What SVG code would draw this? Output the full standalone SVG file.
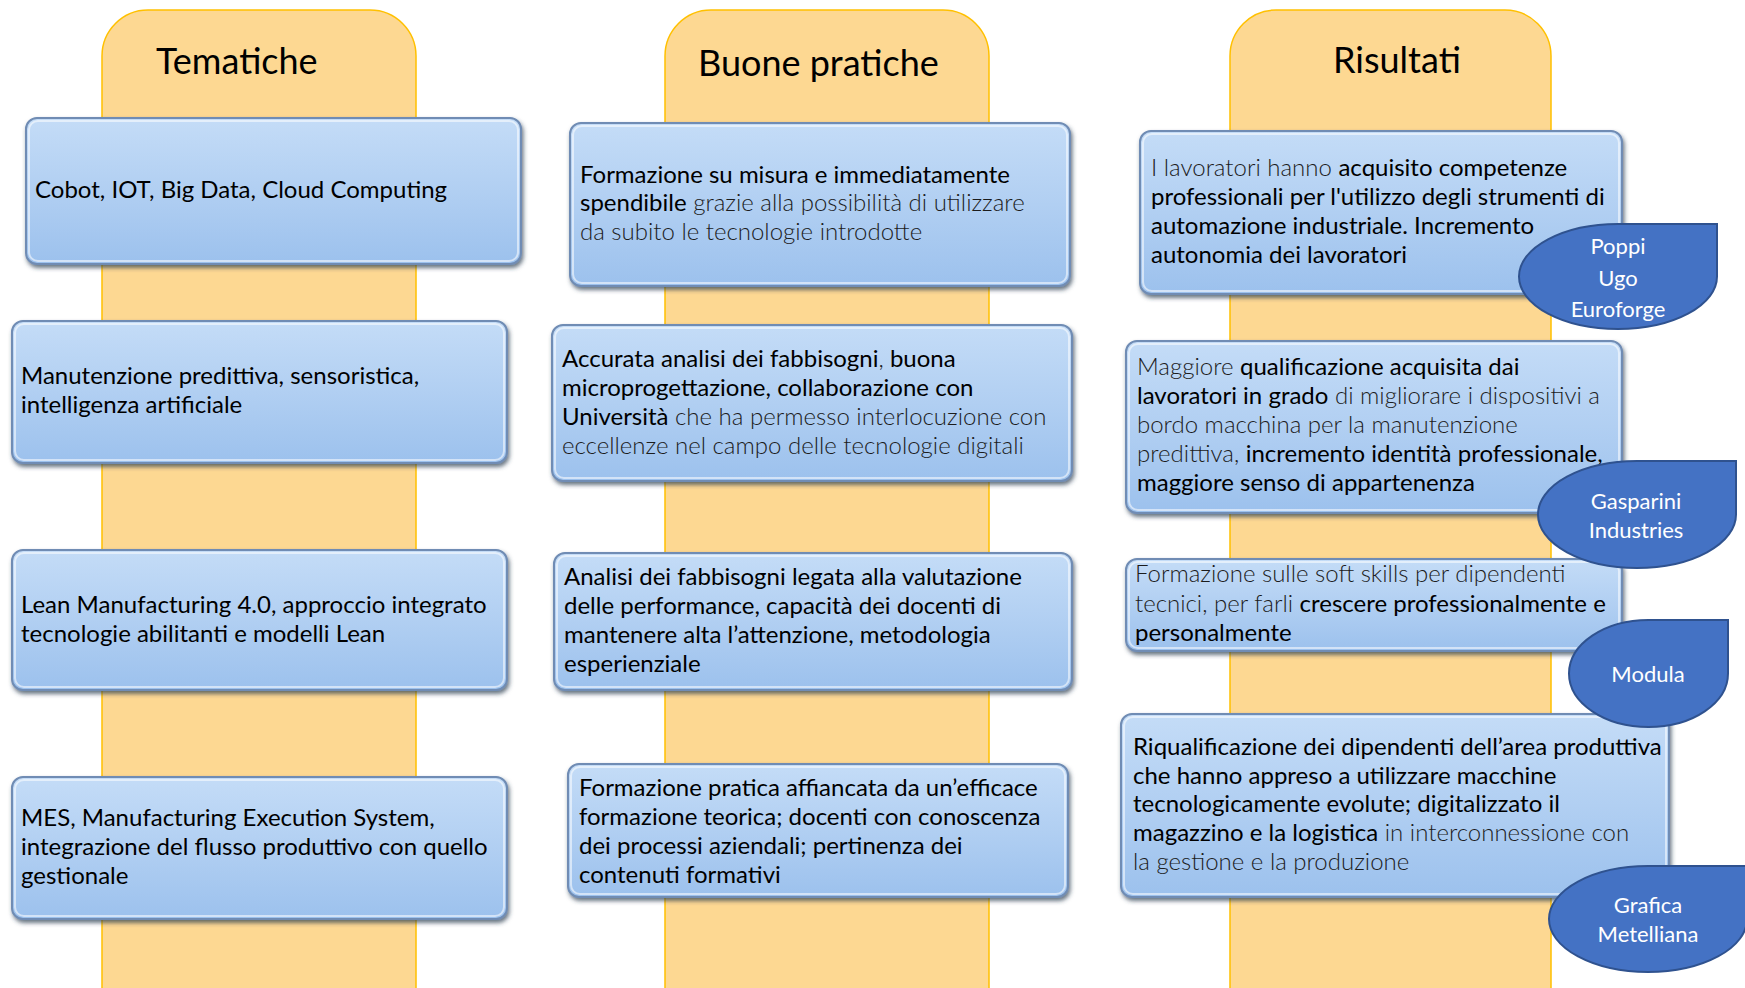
<svg xmlns="http://www.w3.org/2000/svg" width="1745" height="988" viewBox="0 0 1745 988">
<defs>
<linearGradient id="bg" x1="0" y1="0" x2="0" y2="1">
<stop offset="0" stop-color="#C4DCF7"/>
<stop offset="0.5" stop-color="#B1CFF2"/>
<stop offset="1" stop-color="#9CC1ED"/>
</linearGradient>
<filter id="sh" x="-5%" y="-10%" width="110%" height="125%">
<feDropShadow dx="1.5" dy="3" stdDeviation="2" flood-color="#2a3a50" flood-opacity="0.7"/>
</filter>
<style>
.col{fill:#FDD892;stroke:#FFC000;stroke-width:1.5}
.box{fill:url(#bg);stroke:#6F8CB4;stroke-width:2;filter:url(#sh)}
.hl{fill:none;stroke:#ffffff;stroke-opacity:0.55;stroke-width:2}
.drop{fill:#4472C4;stroke:#2F528F;stroke-width:2}
.title{font-family:Lato,"Liberation Sans",sans-serif;font-size:36px;fill:#000}
.t{font-family:Lato,"Liberation Sans",sans-serif;font-size:24px;fill:#000}
.l{fill:#1c1c1c;font-weight:300}
.w{font-family:Lato,"Liberation Sans",sans-serif;font-size:22px;fill:#fff;text-anchor:middle}
</style>
</defs>
<rect width="1745" height="988" fill="#fff"/>

<g id="columns">
<path class="col" d="M102,1000 V56 A46,46 0 0 1 148,10 H370 A46,46 0 0 1 416,56 V1000"/>
<path class="col" d="M665,1000 V56 A46,46 0 0 1 711,10 H943 A46,46 0 0 1 989,56 V1000"/>
<path class="col" d="M1230,1000 V56 A46,46 0 0 1 1276,10 H1505 A46,46 0 0 1 1551,56 V1000"/>
</g>

<g id="titles">
<text class="title" x="156" y="74">Tematiche</text>
<text class="title" x="698" y="76">Buone pratiche</text>
<text class="title" x="1333" y="73">Risultati</text>
</g>

<g id="connectors"></g>

<g id="tem1">
<rect class="box" x="26" y="118" width="495" height="146" rx="11"/>
<rect class="hl" x="29" y="121" width="489" height="140" rx="9"/>
<text class="t" x="35" y="198">Cobot, IOT, Big Data, Cloud Computing</text>
</g>
<g id="tem2">
<rect class="box" x="12" y="321" width="495" height="142" rx="11"/>
<rect class="hl" x="15" y="324" width="489" height="136" rx="9"/>
<text class="t" x="21" y="384">Manutenzione predittiva, sensoristica,</text>
<text class="t" x="21" y="413">intelligenza artificiale</text>
</g>
<g id="tem3">
<rect class="box" x="12" y="550" width="495" height="140" rx="11"/>
<rect class="hl" x="15" y="553" width="489" height="134" rx="9"/>
<text class="t" x="21" y="613">Lean Manufacturing 4.0, approccio integrato</text>
<text class="t" x="21" y="642">tecnologie abilitanti e modelli Lean</text>
</g>
<g id="tem4">
<rect class="box" x="12" y="777" width="495" height="142" rx="11"/>
<rect class="hl" x="15" y="780" width="489" height="136" rx="9"/>
<text class="t" x="21" y="826">MES, Manufacturing Execution System,</text>
<text class="t" x="21" y="855">integrazione del flusso produttivo con quello</text>
<text class="t" x="21" y="884">gestionale</text>
</g>

<g id="bp1">
<rect class="box" x="570" y="123" width="500" height="163" rx="11"/>
<rect class="hl" x="573" y="126" width="494" height="157" rx="9"/>
<text class="t" x="580" y="183">Formazione su misura e immediatamente</text>
<text class="t" x="580" y="211">spendibile<tspan class="l"> grazie alla possibilità di utilizzare</tspan></text>
<text class="t" x="580" y="240"><tspan class="l">da subito le tecnologie introdotte</tspan></text>
</g>
<g id="bp2">
<rect class="box" x="552" y="325" width="520" height="156" rx="11"/>
<rect class="hl" x="555" y="328" width="514" height="150" rx="9"/>
<text class="t" x="562" y="367">Accurata analisi dei fabbisogni<tspan class="l">,</tspan> buona</text>
<text class="t" x="562" y="396">microprogettazione, collaborazione con</text>
<text class="t" x="562" y="425">Università<tspan class="l"> che ha permesso interlocuzione con</tspan></text>
<text class="t" x="562" y="454"><tspan class="l">eccellenze nel campo delle tecnologie digitali</tspan></text>
</g>
<g id="bp3">
<rect class="box" x="554" y="553" width="518" height="137" rx="11"/>
<rect class="hl" x="557" y="556" width="512" height="131" rx="9"/>
<text class="t" x="564" y="585">Analisi dei fabbisogni legata alla valutazione</text>
<text class="t" x="564" y="614">delle performance, capacità dei docenti di</text>
<text class="t" x="564" y="643">mantenere alta l’attenzione, metodologia</text>
<text class="t" x="564" y="672">esperienziale</text>
</g>
<g id="bp4">
<rect class="box" x="568" y="764" width="500" height="133" rx="11"/>
<rect class="hl" x="571" y="767" width="494" height="127" rx="9"/>
<text class="t" x="579" y="796">Formazione pratica affiancata da un’efficace</text>
<text class="t" x="579" y="825">formazione teorica; docenti con conoscenza</text>
<text class="t" x="579" y="854">dei processi aziendali; pertinenza dei</text>
<text class="t" x="579" y="883">contenuti formativi</text>
</g>

<g id="ris1">
<rect class="box" x="1140" y="131" width="482" height="163" rx="11"/>
<rect class="hl" x="1143" y="134" width="476" height="157" rx="9"/>
<text class="t" x="1151" y="176"><tspan class="l">I lavoratori hanno </tspan>acquisito competenze</text>
<text class="t" x="1151" y="205">professionali per l'utilizzo  degli strumenti di</text>
<text class="t" x="1151" y="234">automazione industriale. Incremento</text>
<text class="t" x="1151" y="263">autonomia dei lavoratori</text>
</g>
<g id="ris2">
<rect class="box" x="1126" y="341" width="496" height="172" rx="11"/>
<rect class="hl" x="1129" y="344" width="490" height="166" rx="9"/>
<text class="t" x="1137" y="375"><tspan class="l">Maggiore </tspan>qualificazione acquisita dai</text>
<text class="t" x="1137" y="404">lavoratori in grado<tspan class="l"> di migliorare i dispositivi a</tspan></text>
<text class="t" x="1137" y="433"><tspan class="l">bordo macchina per la manutenzione</tspan></text>
<text class="t" x="1137" y="462"><tspan class="l">predittiva, </tspan>incremento identità professionale,</text>
<text class="t" x="1137" y="491">maggiore senso di appartenenza</text>
</g>
<g id="ris3">
<rect class="box" x="1126" y="559" width="496" height="92" rx="11"/>
<rect class="hl" x="1129" y="562" width="490" height="86" rx="9"/>
<text class="t" x="1135" y="582"><tspan class="l">Formazione sulle soft skills  per dipendenti</tspan></text>
<text class="t" x="1135" y="612"><tspan class="l">tecnici, per farli </tspan>crescere professionalmente e</text>
<text class="t" x="1135" y="641">personalmente</text>
</g>
<g id="ris4">
<rect class="box" x="1121" y="714" width="548" height="183" rx="11"/>
<rect class="hl" x="1124" y="717" width="542" height="177" rx="9"/>
<text class="t" x="1133" y="755">Riqualificazione dei dipendenti dell’area produttiva</text>
<text class="t" x="1133" y="784">che hanno appreso a utilizzare macchine</text>
<text class="t" x="1133" y="812">tecnologicamente evolute; digitalizzato il</text>
<text class="t" x="1133" y="841">magazzino e la logistica<tspan class="l"> in interconnessione con</tspan></text>
<text class="t" x="1133" y="870"><tspan class="l">la gestione e la produzione</tspan></text>
</g>

<g id="poppi">
<path class="drop" d="M1618,224 H1717 V276.5 A99,52.5 0 0 1 1618,329 A99,52.5 0 0 1 1519,276.5 A99,52.5 0 0 1 1618,224 Z"/>
<text class="w" x="1618" y="254">Poppi</text>
<text class="w" x="1618" y="286">Ugo</text>
<text class="w" x="1618" y="317">Euroforge</text>
</g>
<g id="gasparini">
<path class="drop" d="M1637,461 H1736 V514.5 A99,53.5 0 0 1 1637,568 A99,53.5 0 0 1 1538,514.5 A99,53.5 0 0 1 1637,461 Z"/>
<text class="w" x="1636" y="509">Gasparini</text>
<text class="w" x="1636" y="538">Industries</text>
</g>
<g id="modula">
<path class="drop" d="M1648.5,620 H1728 V673.5 A79.5,53.5 0 0 1 1648.5,727 A79.5,53.5 0 0 1 1569,673.5 A79.5,53.5 0 0 1 1648.5,620 Z"/>
<text class="w" x="1648" y="682">Modula</text>
</g>
<g id="grafica">
<path class="drop" d="M1648,866 H1747 V919 A99,53 0 0 1 1648,972 A99,53 0 0 1 1549,919 A99,53 0 0 1 1648,866 Z"/>
<text class="w" x="1648" y="913">Grafica</text>
<text class="w" x="1648" y="942">Metelliana</text>
</g>
</svg>
